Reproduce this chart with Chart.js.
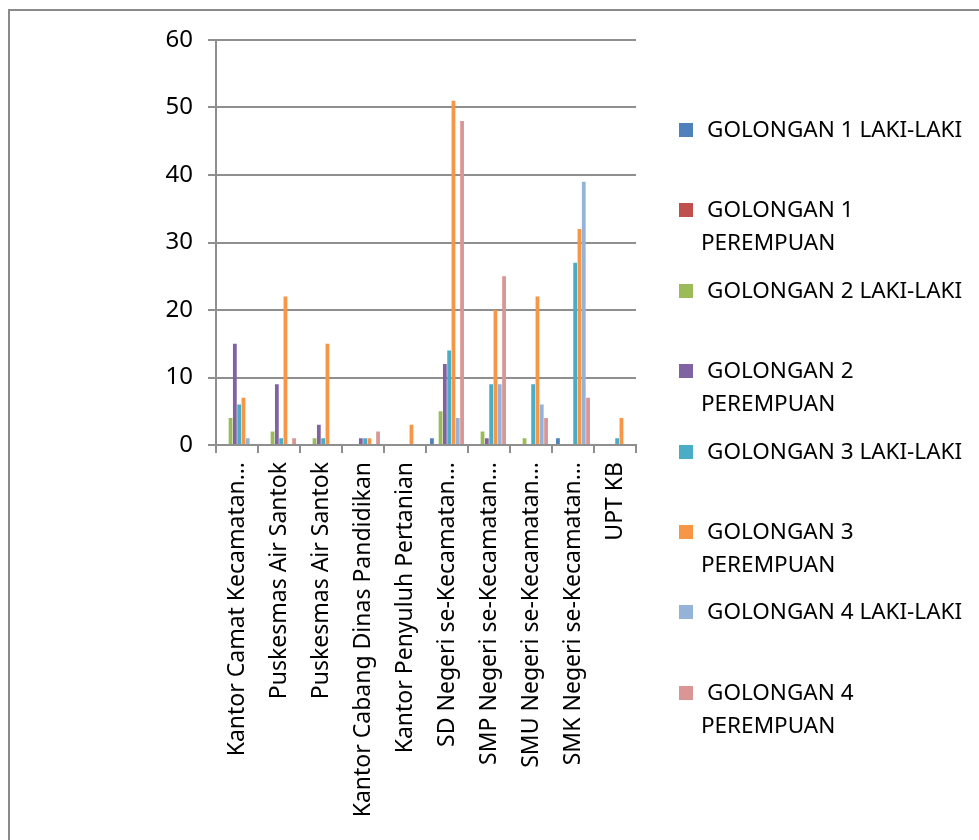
<!DOCTYPE html>
<html lang="id">
<head>
<meta charset="UTF-8">
<title>Golongan Pegawai</title>
<script src="https://cdn.jsdelivr.net/npm/chart.js"></script>
<style>
  html, body { margin: 0; padding: 0; background: #fff; }
  #wrap { position: relative; width: 979px; height: 840px; }
</style>
</head>
<body>
<div id="wrap"><canvas id="myChart" width="979" height="840"></canvas></div>

<script>
// kategori (unit kerja) seperti tampil di grafik
const categories = [
  'Kantor Camat Kecamatan…',
  'Puskesmas Air Santok',
  'Puskesmas Air Santok',
  'Kantor Cabang Dinas Pandidikan',
  'Kantor Penyuluh Pertanian',
  'SD Negeri se-Kecamatan…',
  'SMP Negeri se-Kecamatan…',
  'SMU Negeri se-Kecamatan…',
  'SMK Negeri se-Kecamatan…',
  'UPT KB'
];

// nama seri
const seriesNames = [
  'GOLONGAN 1 LAKI-LAKI',
  'GOLONGAN 1 PEREMPUAN',
  'GOLONGAN 2 LAKI-LAKI',
  'GOLONGAN 2 PEREMPUAN',
  'GOLONGAN 3 LAKI-LAKI',
  'GOLONGAN 3 PEREMPUAN',
  'GOLONGAN 4 LAKI-LAKI',
  'GOLONGAN 4 PEREMPUAN'
];

// nilai per seri
const gol1Laki      = [0, 0, 0, 0, 0, 1, 0, 0, 1, 0];
const gol1Perempuan = [0, 0, 0, 0, 0, 0, 0, 0, 0, 0];
const gol2Laki      = [4, 2, 1, 0, 0, 5, 2, 1, 0, 0];
const gol2Perempuan = [15, 9, 3, 1, 0, 12, 1, 0, 0, 0];
const gol3Laki      = [6, 1, 1, 1, 0, 14, 9, 9, 27, 1];
const gol3Perempuan = [7, 22, 15, 1, 3, 51, 20, 22, 32, 4];
const gol4Laki      = [1, 0, 0, 0, 0, 4, 9, 6, 39, 0];
const gol4Perempuan = [0, 1, 0, 2, 0, 48, 25, 4, 7, 0];

// label sumbu Y
const yTicks = [0, 10, 20, 30, 40, 50, 60];

const seriesData = [gol1Laki, gol1Perempuan, gol2Laki, gol2Perempuan,
                    gol3Laki, gol3Perempuan, gol4Laki, gol4Perempuan];
const colors = ['#4F81BD', '#C0504D', '#9BBB59', '#8064A2',
                '#4BACC6', '#F79646', '#95B3D7', '#D99694'];

// posisi legenda (tengah baris pertama)
const legendRows = [130, 210, 291, 371, 452, 532, 612, 693];

const FONT = '"Noto Sans", "Open Sans", sans-serif';
const GRID = '#8f8f8f';

const frame = {
  id: 'frame',
  beforeDraw(chart) {
    const c = chart.ctx;
    c.save();
    c.fillStyle = '#fff';
    c.fillRect(0, 0, chart.width, chart.height);
    c.strokeStyle = '#8a8a8a';
    c.lineWidth = 2;
    c.strokeRect(9, 10, chart.width + 20, chart.height + 20);
    c.restore();
  }
};

const sideLegend = {
  id: 'sideLegend',
  afterDraw(chart) {
    const c = chart.ctx;
    c.save();
    c.font = '22.5px ' + FONT;
    c.textBaseline = 'middle';
    chart.data.datasets.forEach((ds, i) => {
      const mid = legendRows[i];
      c.fillStyle = ds.backgroundColor;
      c.fillRect(679, mid - 7, 14, 14);
      c.fillStyle = '#000';
      const words = ds.label.split(' ');
      let lines = [], cur = '';
      words.forEach(w => {
        const test = cur ? cur + ' ' + w : w;
        if (c.measureText(test).width > 262 && cur) { lines.push(cur); cur = w; }
        else cur = test;
      });
      lines.push(cur);
      lines.forEach((ln, k) => {
        c.fillText(ln, k === 0 ? 707 : 701, mid + 1 + k * 33);
      });
    });
    c.restore();
  }
};

new Chart(document.getElementById('myChart'), {
  type: 'bar',
  data: {
    labels: categories,
    datasets: seriesNames.map((name, i) => ({
      label: name,
      data: seriesData[i],
      backgroundColor: colors[i],
      borderWidth: 0,
      categoryPercentage: 0.82,
      barPercentage: 0.88
    }))
  },
  options: {
    responsive: false,
    animation: false,
    layout: { padding: { left: 0, right: 343, top: 40, bottom: 0 } },
    plugins: { legend: { display: false }, tooltip: { enabled: false } },
    scales: {
      x: {
        offset: true,
        grid: {
          offset: true,
          drawOnChartArea: false,
          drawTicks: true,
          tickLength: 8,
          color: GRID,
          lineWidth: 2
        },
        border: { color: GRID, width: 2 },
        ticks: {
          color: '#000',
          font: { family: FONT, size: 23 },
          minRotation: 90,
          maxRotation: 90,
          autoSkip: false,
          padding: 9
        },
        afterFit(scale) { scale.height = 395; }
      },
      y: {
        min: 0,
        max: 60,
        afterBuildTicks(scale) { scale.ticks = yTicks.map(v => ({ value: v })); },
        grid: { color: GRID, lineWidth: 2, tickLength: 8 },
        border: { color: GRID, width: 2 },
        ticks: {
          color: '#000',
          font: { family: FONT, size: 24 },
          padding: 15
        },
        afterFit(scale) { scale.width = 216; }
      }
    }
  },
  plugins: [frame, sideLegend]
});
</script>
</body>
</html>
